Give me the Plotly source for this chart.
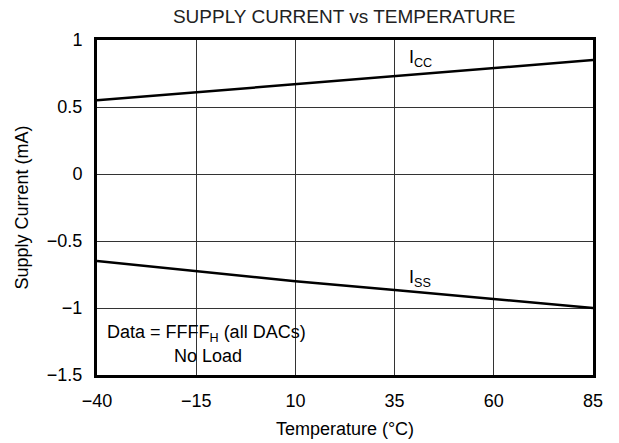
import plotly.graph_objects as go

# Temperature sweep (°C) and measured supply currents (mA)
temperature = [-40, -15, 10, 35, 60, 85]
icc = [0.55, 0.61, 0.67, 0.73, 0.79, 0.85]
iss = [-0.65, -0.725, -0.80, -0.865, -0.93, -1.0]

x_ticks = [-40, -15, 10, 35, 60, 85]
x_labels = ["\u221240", "\u221215", "10", "35", "60", "85"]
y_ticks = [-1.5, -1, -0.5, 0, 0.5, 1]
y_labels = ["\u22121.5", "\u22121", "\u22120.5", "0", "0.5", "1"]

FONT = "Liberation Sans, Arial, sans-serif"

fig = go.Figure()
fig.add_trace(go.Scatter(x=temperature, y=icc, mode="lines",
                         line=dict(color="black", width=2.5), showlegend=False))
fig.add_trace(go.Scatter(x=temperature, y=iss, mode="lines",
                         line=dict(color="black", width=2.5), showlegend=False))

fig.update_layout(
    width=619, height=443,
    margin=dict(l=97, r=26, t=40, b=68),
    paper_bgcolor="white", plot_bgcolor="white",
    font=dict(family=FONT, color="black", size=18),
    title=dict(text="SUPPLY CURRENT vs TEMPERATURE", x=0.556, xanchor="center",
               y=0.962, yanchor="middle", font=dict(size=19, color="#222222")),
    showlegend=False,
)
fig.update_xaxes(range=[-40, 85], tickvals=x_ticks, ticktext=x_labels,
                 showgrid=True, gridcolor="#333333", gridwidth=1,
                 showline=True, linecolor="black", linewidth=3, mirror=True,
                 ticks="", zeroline=False, ticklabelstandoff=7, automargin=False,
                 tickfont=dict(size=18),
                 title=dict(text="Temperature (\u00b0C)", font=dict(size=18), standoff=13))
fig.update_yaxes(range=[-1.5, 1], tickvals=y_ticks, ticktext=y_labels,
                 showgrid=True, gridcolor="#333333", gridwidth=1,
                 showline=True, linecolor="black", linewidth=3, mirror=True,
                 ticks="", zeroline=False, ticklabelstandoff=8, automargin=False,
                 tickfont=dict(size=18),
                 title=dict(text="Supply Current (mA)", font=dict(size=18), standoff=14))

fig.add_annotation(x=41.5, y=0.86, text="I<sub>CC</sub>", showarrow=False,
                   xanchor="center", yanchor="middle", font=dict(size=18))
fig.add_annotation(x=41.5, y=-0.78, text="I<sub>SS</sub>", showarrow=False,
                   xanchor="center", yanchor="middle", font=dict(size=18))
fig.add_annotation(x=-38, y=-1.19, text="Data = FFFF<sub>H</sub> (all DACs)",
                   showarrow=False, xanchor="left", yanchor="middle", font=dict(size=18))
fig.add_annotation(x=-12, y=-1.36, text="No Load", showarrow=False,
                   xanchor="center", yanchor="middle", font=dict(size=18))

fig.write_html("out.html")
